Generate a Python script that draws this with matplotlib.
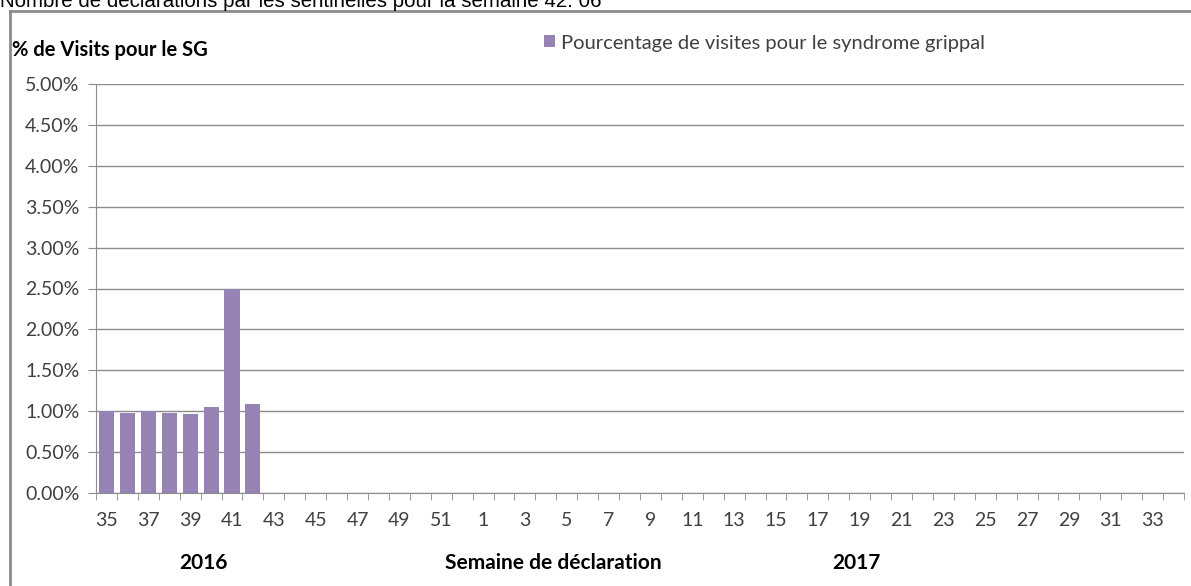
import matplotlib
matplotlib.use("Agg")
import matplotlib.pyplot as plt
from matplotlib.lines import Line2D
from matplotlib.ticker import FixedLocator, PercentFormatter
import numpy as np

plt.rcParams['font.family'] = ['Lato', 'DejaVu Sans']

weeks = list(range(35, 53)) + list(range(1, 35))
values = [1.00, 0.98, 1.00, 0.98, 0.97, 1.05, 2.50, 1.09]
series_name = "Pourcentage de visites pour le syndrome grippal"
y_ticks = [0, 0.5, 1.0, 1.5, 2.0, 2.5, 3.0, 3.5, 4.0, 4.5, 5.0]
title = "Nombre de déclarations par les sentinelles pour la semaine 42: 06"
y_title = "% de Visits pour le SG"
x_title = "Semaine de déclaration"
years = ["2016", "2017"]

W, H = 1191, 586
fig = plt.figure(figsize=(W / 100, H / 100), dpi=100)

def fx(px):
    return px / W

def fy(py):
    return 1 - py / H

# outer border (chart area)
fig.add_artist(Line2D([fx(10), fx(10)], [fy(11), 0], color='#8c8c8c', lw=2, transform=fig.transFigure))
fig.add_artist(Line2D([fx(10), 1], [fy(11), fy(11)], color='#8c8c8c', lw=2, transform=fig.transFigure))

fig.text(fx(0), fy(7), title, fontsize=14.8, family=['Liberation Sans', 'DejaVu Sans'],
         va='baseline', ha='left', color='black')

ax = fig.add_axes([fx(96), fy(493), fx(1184) - fx(96), fy(84) - fy(493)])
x = np.arange(len(weeks))
vals = values + [np.nan] * (len(weeks) - len(values))
ax.bar(x, vals, width=0.72, color='#9683B3', zorder=3, label=series_name)

ax.set_xlim(-0.5, len(weeks) - 0.5)
ax.set_ylim(0, 5.0)
ax.set_yticks(y_ticks)
ax.yaxis.set_major_formatter(PercentFormatter(decimals=2))
ax.grid(axis='y', color='#8c8c8c', lw=1, zorder=0)
ax.set_axisbelow(True)

major = [i for i in range(0, len(weeks), 2)]
ax.set_xticks(major)
ax.set_xticklabels([str(weeks[i]) for i in major])
ax.xaxis.set_minor_locator(FixedLocator(np.arange(-0.5, len(weeks), 1)))
ax.tick_params(axis='x', which='major', length=0, pad=14, labelsize=14, labelcolor='#404040')
ax.tick_params(axis='x', which='minor', length=5, color='#8c8c8c', direction='out')
ax.tick_params(axis='y', length=6, color='#8c8c8c', labelsize=14, pad=6, labelcolor='#404040')

for s in ['top', 'right']:
    ax.spines[s].set_visible(False)
ax.spines['left'].set_color('#8c8c8c')
ax.spines['bottom'].set_color('#8c8c8c')

fig.text(fx(12), fy(50), y_title, fontsize=14.5, fontweight='bold', va='center', ha='left')
fig.text(fx(553), fy(563), x_title, fontsize=15, fontweight='bold', va='center', ha='center')
fig.text(fx(204), fy(563), years[0], fontsize=15, fontweight='bold', va='center', ha='center')
fig.text(fx(856), fy(563), years[1], fontsize=15, fontweight='bold', va='center', ha='center')

leg = ax.legend(loc='center left', bbox_to_anchor=(fx(544), fy(43)), bbox_transform=fig.transFigure,
                frameon=False, fontsize=14.5, handlelength=0.55, handleheight=0.55,
                handletextpad=0.3, borderpad=0, borderaxespad=0)
for t in leg.get_texts():
    t.set_color('#404040')

fig.savefig('out.png', dpi=100)
